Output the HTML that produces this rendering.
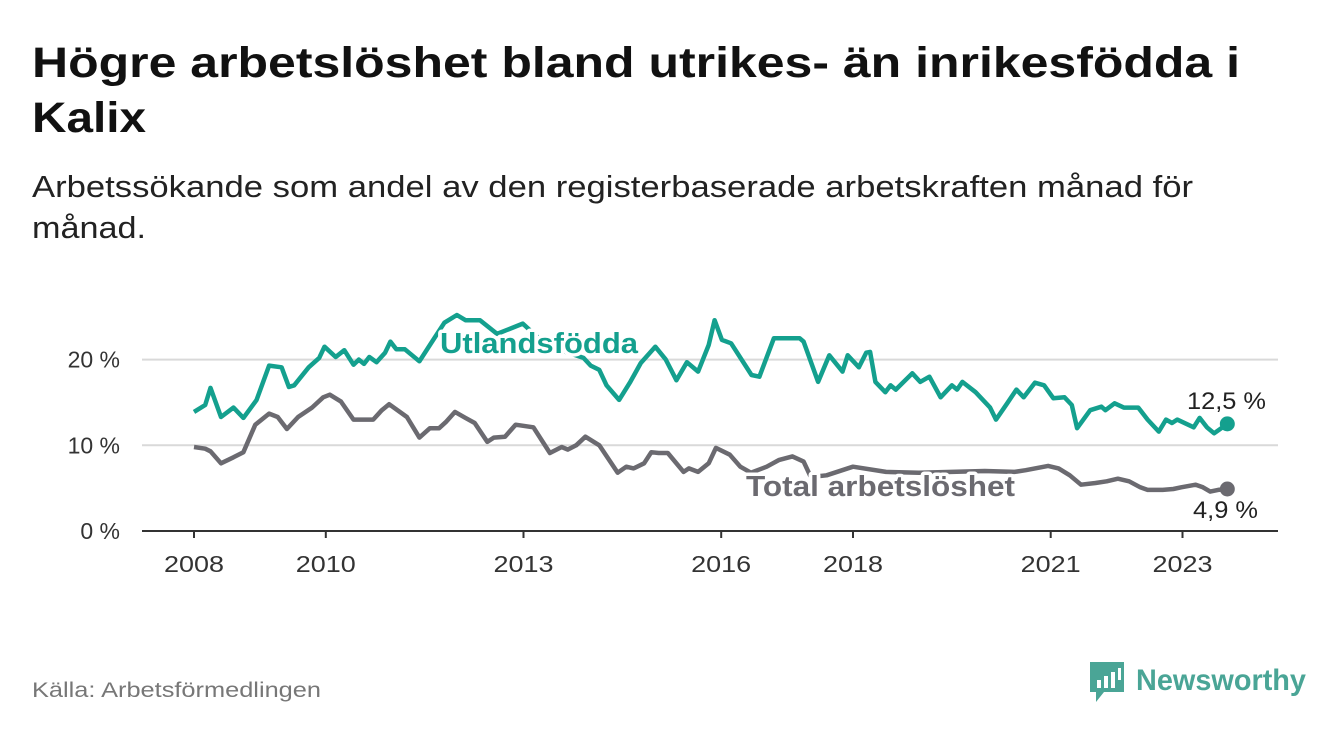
<!DOCTYPE html>
<html><head><meta charset="utf-8"><style>
body{margin:0;width:1340px;height:734px;background:#fff;font-family:"Liberation Sans",sans-serif;overflow:hidden}
</style></head><body>
<svg width="1340" height="734" xmlns="http://www.w3.org/2000/svg">
<text x="32" y="77" font-size="43" font-weight="bold" fill="#111" textLength="1208" lengthAdjust="spacingAndGlyphs">Högre arbetslöshet bland utrikes- än inrikesfödda i</text>
<text x="32" y="132" font-size="43" font-weight="bold" fill="#111" textLength="114" lengthAdjust="spacingAndGlyphs">Kalix</text>
<text x="32" y="197" font-size="31" fill="#222" textLength="1161" lengthAdjust="spacingAndGlyphs">Arbetssökande som andel av den registerbaserade arbetskraften månad för</text>
<text x="32" y="238" font-size="31" fill="#222" textLength="114" lengthAdjust="spacingAndGlyphs">månad.</text>
<g id="grid"></g><g id="lines"></g><g id="labels"></g>
<text x="32" y="697" font-size="21" fill="#777" textLength="289" lengthAdjust="spacingAndGlyphs">Källa: Arbetsförmedlingen</text>
<g>
<path d="M1090 662 h34 v30 h-20 l-8 10 v-10 h-6 z" fill="#4aa596"/>
<rect x="1097" y="680" width="4" height="8" fill="#fff"/><rect x="1104" y="676" width="4" height="12" fill="#fff"/><rect x="1111" y="672" width="4" height="16" fill="#fff"/><rect x="1118" y="668" width="3" height="12" fill="#fff"/>
<text x="1136" y="690" font-size="30" font-weight="bold" fill="#4aa596" textLength="170" lengthAdjust="spacingAndGlyphs">Newsworthy</text>
</g>
</svg>
<script>
const tealYears=[2008.0,2008.17,2008.25,2008.41,2008.6,2008.75,2008.95,2009.14,2009.33,2009.44,2009.52,2009.74,2009.9,2009.98,2010.15,2010.28,2010.42,2010.5,2010.58,2010.66,2010.77,2010.9,2010.98,2011.07,2011.2,2011.42,2011.58,2011.8,2011.99,2012.12,2012.34,2012.6,2012.99,2013.3,2013.6,2013.91,2014.02,2014.15,2014.26,2014.45,2014.62,2014.78,2015.0,2015.16,2015.32,2015.48,2015.65,2015.81,2015.9,2016.01,2016.15,2016.46,2016.58,2016.8,2017.19,2017.25,2017.47,2017.64,2017.84,2017.92,2018.09,2018.2,2018.26,2018.34,2018.49,2018.57,2018.65,2018.9,2019.02,2019.16,2019.33,2019.5,2019.58,2019.66,2019.86,2020.08,2020.17,2020.34,2020.48,2020.59,2020.76,2020.9,2021.04,2021.21,2021.32,2021.4,2021.6,2021.77,2021.83,2021.97,2022.11,2022.33,2022.47,2022.64,2022.75,2022.84,2022.92,2023.17,2023.26,2023.37,2023.48,2023.68];
const tealValues=[13.9,14.7,16.7,13.3,14.4,13.2,15.3,19.3,19.1,16.8,17.0,19.1,20.2,21.5,20.3,21.1,19.4,20.0,19.5,20.3,19.7,20.8,22.1,21.2,21.2,19.8,21.7,24.3,25.2,24.6,24.6,23.0,24.2,22.0,21.0,20.2,19.3,18.8,17.0,15.3,17.4,19.6,21.5,20.0,17.6,19.7,18.6,21.7,24.6,22.3,21.9,18.2,18.0,22.5,22.5,22.1,17.4,20.5,18.6,20.5,19.1,20.8,20.9,17.4,16.2,17.0,16.5,18.4,17.4,18.0,15.6,17.0,16.5,17.4,16.2,14.4,13.0,14.9,16.5,15.6,17.3,17.0,15.5,15.6,14.7,12.0,14.1,14.5,14.1,14.9,14.4,14.4,13.0,11.6,13.0,12.6,13.0,12.1,13.2,12.1,11.4,12.5];
const grayYears=[2008.0,2008.17,2008.25,2008.41,2008.6,2008.75,2008.93,2009.14,2009.27,2009.41,2009.58,2009.79,2009.96,2010.06,2010.23,2010.42,2010.72,2010.85,2010.96,2011.23,2011.42,2011.58,2011.72,2011.82,2011.96,2012.12,2012.26,2012.45,2012.55,2012.72,2012.88,2013.15,2013.4,2013.58,2013.67,2013.8,2013.94,2014.15,2014.43,2014.56,2014.67,2014.83,2014.94,2015.05,2015.19,2015.43,2015.51,2015.65,2015.81,2015.92,2016.13,2016.29,2016.45,2016.69,2016.88,2017.08,2017.25,2017.36,2017.6,2018.0,2018.5,2019.0,2019.5,2020.0,2020.45,2020.62,2020.96,2021.12,2021.29,2021.46,2021.68,2021.85,2022.02,2022.19,2022.36,2022.47,2022.7,2022.86,2022.98,2023.2,2023.31,2023.42,2023.54,2023.68];
const grayValues=[9.8,9.6,9.3,7.9,8.6,9.2,12.4,13.7,13.3,11.9,13.3,14.4,15.6,15.9,15.1,13.0,13.0,14.1,14.8,13.3,10.9,12.0,12.0,12.7,13.9,13.2,12.6,10.4,10.9,11.0,12.4,12.1,9.1,9.8,9.5,10.0,11.0,10.0,6.8,7.5,7.3,7.9,9.2,9.1,9.1,6.9,7.3,6.9,7.9,9.7,8.9,7.5,6.8,7.5,8.3,8.7,8.1,6.3,6.5,7.5,6.9,6.8,6.9,7.0,6.9,7.1,7.6,7.3,6.5,5.4,5.6,5.8,6.1,5.8,5.1,4.8,4.8,4.9,5.1,5.4,5.1,4.6,4.8,4.9];
const yTicks=[0,10,20];
const yTickLabels=["0 %","10 %","20 %"];
const xTicks=[2008,2010,2013,2016,2018,2021,2023];
const xTickLabels=["2008","2010","2013","2016","2018","2021","2023"];
const NS="http://www.w3.org/2000/svg";
const X=y=>194+(y-2008)*65.9;
const Y=v=>531-v*8.57;
function mk(tag,attrs,parent){const e=document.createElementNS(NS,tag);for(const k in attrs)e.setAttribute(k,attrs[k]);parent.appendChild(e);return e;}
const grid=document.getElementById('grid'),lines=document.getElementById('lines'),labels=document.getElementById('labels');
yTicks.forEach((t,i)=>{
 if(t>0){const g=mk('line',{x1:142,x2:1278,y1:Y(t),y2:Y(t),stroke:'#d9d9d9','stroke-width':2},grid);
 
 }
 const tx=mk('text',{x:120,y:Y(t)+8,'text-anchor':'end','font-size':23,fill:'#333'},grid);tx.textContent=yTickLabels[i];
 
 
});
const ax=mk('line',{x1:142,x2:1278,y1:531,y2:531,stroke:'#333','stroke-width':2},grid);


xTicks.forEach((t,i)=>{
 mk('line',{x1:X(t),x2:X(t),y1:531,y2:538,stroke:'#333','stroke-width':2},grid);
 const tx=mk('text',{x:X(t),y:572,'text-anchor':'middle','font-size':23,fill:'#333',textLength:60,lengthAdjust:'spacingAndGlyphs'},grid);tx.textContent=xTickLabels[i];
 
 
});
function series(ys,vs,color,name){
 const d=ys.map((y,i)=>(i?'L':'M')+X(y).toFixed(1)+' '+Y(vs[i]).toFixed(1)).join(' ');
 const p=mk('path',{d:d,fill:'none',stroke:color,'stroke-width':4.5,'stroke-linejoin':'round'},lines);
 
 
 const n=ys.length-1;
 const c=mk('circle',{cx:X(ys[n]),cy:Y(vs[n]),r:7.5,fill:color},lines);
 
 
}
series(grayYears,grayValues,'#6b6a70','total-line');
series(tealYears,tealValues,'#14a08e','foreign-born-line');
function lab(x,y,txt,color,bold,size,len,name){
 const t=mk('text',{x:x,y:y,'font-size':size,'font-weight':bold?'bold':'normal',fill:color,stroke:'#fff','stroke-width':bold?7:5,'paint-order':'stroke','stroke-linejoin':'round',textLength:len,lengthAdjust:'spacingAndGlyphs'},labels);
 t.textContent=txt;
 
 
}
lab(440,353,'Utlandsfödda','#14a08e',true,29,198,'foreign-born-label');
lab(746,496,'Total arbetslöshet','#6b6a70',true,29,269,'total-label');
lab(1187,409,'12,5 %','#222',false,24,79,'foreign-born-value');
lab(1193,518,'4,9 %','#222',false,24,65,'total-value');
</script>
</body></html>
